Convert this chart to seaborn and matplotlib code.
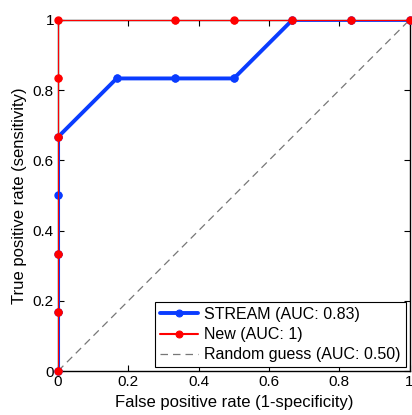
import matplotlib
matplotlib.use("Agg")
import matplotlib.pyplot as plt
import seaborn as sns
import pandas as pd

# ROC points
stream_fpr = [0, 0, 0, 0, 0, 1/6, 2/6, 3/6, 4/6, 5/6, 1]
stream_tpr = [0, 1/6, 2/6, 3/6, 4/6, 5/6, 5/6, 5/6, 1, 1, 1]
new_fpr = [0, 0, 0, 0, 0, 0, 2/6, 3/6, 4/6, 5/6, 1]
new_tpr = [0, 1/6, 2/6, 4/6, 5/6, 1, 1, 1, 1, 1, 1]
guess = [0, 1]
labels = ["STREAM (AUC: 0.83)", "New (AUC: 1)", "Random guess (AUC: 0.50)"]

blue = "#0a3cff"
red = "#ff0000"

sns.set_style("ticks")
plt.rcParams["font.family"] = ["Liberation Sans", "DejaVu Sans"]
plt.rcParams["xtick.direction"] = "in"
plt.rcParams["ytick.direction"] = "in"
plt.rcParams["text.color"] = "black"
plt.rcParams["axes.labelcolor"] = "black"
plt.rcParams["xtick.color"] = "black"
plt.rcParams["ytick.color"] = "black"

fig = plt.figure(figsize=(4.12, 4.15), dpi=100)
ax = fig.add_axes([0.141, 0.106, 0.853, 0.846])

df_s = pd.DataFrame({"fpr": stream_fpr, "tpr": stream_tpr})
df_n = pd.DataFrame({"fpr": new_fpr, "tpr": new_tpr})

# lines are clipped at the axes box (like matlab), markers are not
sns.lineplot(data=df_s, x="fpr", y="tpr", sort=False, estimator=None, ax=ax,
             color=blue, lw=2.8, marker="o", markersize=5,
             markeredgecolor=blue, label=labels[0], zorder=3)
sns.lineplot(data=df_n, x="fpr", y="tpr", sort=False, estimator=None, ax=ax,
             color=red, lw=1.5, marker="o", markersize=5,
             markeredgecolor=red, label=labels[1], zorder=5)
sns.lineplot(x=guess, y=guess, ax=ax, color="#777777", lw=0.9,
             linestyle=(0, (6, 4)), label=labels[2], zorder=2)
ax.plot(df_s["fpr"], df_s["tpr"], ls="none", marker="o", ms=5, color=blue,
        mec=blue, clip_on=False, zorder=4)
ax.plot(df_n["fpr"], df_n["tpr"], ls="none", marker="o", ms=5, color=red,
        mec=red, clip_on=False, zorder=6)

ax.set_xlim(0, 1)
ax.set_ylim(0, 1)
ax.set_xticks([0, 0.2, 0.4, 0.6, 0.8, 1])
ax.set_yticks([0, 0.2, 0.4, 0.6, 0.8, 1])
ax.set_xticklabels(["0", "0.2", "0.4", "0.6", "0.8", "1"])
ax.set_yticklabels(["0", "0.2", "0.4", "0.6", "0.8", "1"])
ax.tick_params(top=True, right=True, labelsize=11, length=4, width=0.8, pad=3,
               colors="black")
for s in ax.spines.values():
    s.set_visible(True)
    s.set_color("black")
    s.set_linewidth(1)
ax.set_xlabel("False positive rate (1-specificity)", fontsize=12, labelpad=4)
ax.set_ylabel("True positive rate (sensitivity)", fontsize=12, labelpad=4)

leg = ax.legend(loc="lower right", fontsize=11.5, fancybox=False, framealpha=1,
                edgecolor="black", handlelength=2.4, handletextpad=0.4,
                borderaxespad=0.25, borderpad=0.3, labelspacing=0.32)
leg.get_frame().set_linewidth(0.8)
leg.set_zorder(10)

fig.savefig("out.png", dpi=100)
